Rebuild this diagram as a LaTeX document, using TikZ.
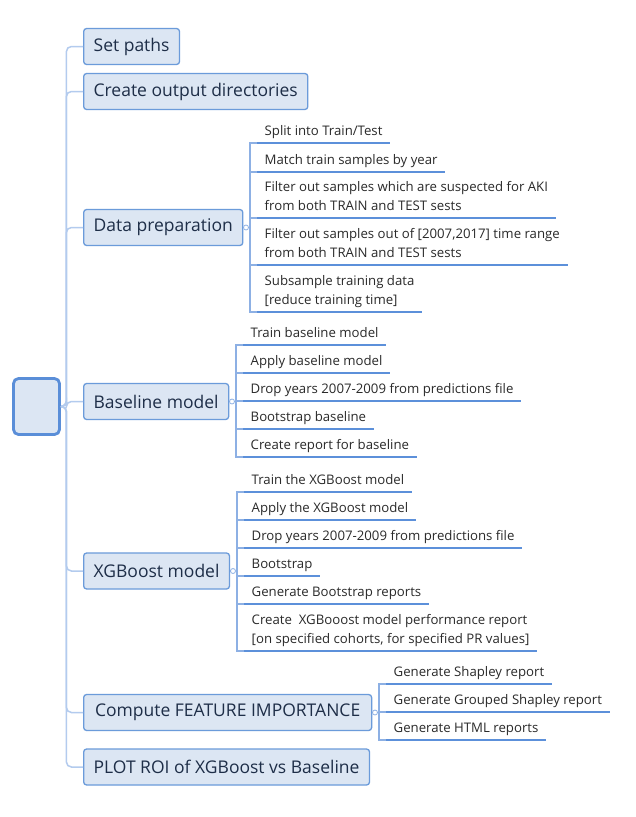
\documentclass[tikz,border=0pt]{standalone}
\usepackage{fontspec}
\setmainfont{Open Sans}
\definecolor{topicfill}{HTML}{DCE6F3}
\definecolor{topicline}{HTML}{6B9BDA}
\definecolor{rootline}{HTML}{5A8ED8}
\definecolor{topictext}{HTML}{1E2E48}
\definecolor{trunkline}{HTML}{B3CBEE}
\definecolor{ulinecol}{HTML}{5C90DA}
\definecolor{bracketcol}{HTML}{8DB0E4}
\definecolor{leaftext}{HTML}{2A2A2A}
\begin{document}
\begin{tikzpicture}[x=1pt,y=-1pt,
  topic/.style={draw=topicline, fill=topicfill, line width=1.3pt, rounded corners=3pt,
    minimum height=36pt, inner xsep=10pt, inner ysep=0pt, anchor=west,
    font=\fontsize{17.5}{20}\selectfont, text=topictext},
  rootbox/.style={draw=rootline, fill=topicfill, line width=2.8pt, rounded corners=5pt,
    minimum width=46pt, minimum height=56pt},
  trunk/.style={draw=trunkline, line width=1.5pt, rounded corners=5pt},
  uline/.style={draw=ulinecol, line width=2pt},
  branch/.style={draw=bracketcol, line width=1.1pt},
  knob/.style={circle, draw=bracketcol, fill=white, line width=0.8pt, minimum size=5pt, inner sep=0pt},
  leaf/.style={anchor=south west, align=left, inner xsep=7.5pt, inner ysep=4pt,
    text depth=3.5pt, font=\fontsize{13.2}{19}\selectfont, text=leaftext,
    append after command={(\tikzlastnode.south west) edge[uline] (\tikzlastnode.south east)}}
]
\fill[white] (0,0) rectangle (636,817);
\useasboundingbox (0,0) rectangle (636,817);

% central topic
\node[rootbox] (root) at (36.5,406.5) {};

% main topics
\node[topic, minimum width=95pt]  (sp)  at (83,46.5)  {Set paths};
\node[topic, minimum width=224pt] (cod) at (83,91.5)  {Create output directories};
\node[topic, minimum width=158pt] (dp)  at (83,227.5) {Data preparation};
\node[topic, minimum width=144pt] (bm)  at (83,401.5) {Baseline model};
\node[topic, minimum width=145pt] (xg)  at (83,571)   {XGBoost model};
\node[topic, minimum width=288pt] (fi)  at (83,712.5) {Compute FEATURE IMPORTANCE};
\node[topic, minimum width=284pt] (pr)  at (83,767)   {PLOT ROI of XGBoost vs Baseline};

% connectors from the central topic
\foreach \t in {sp,cod,dp,bm,xg,fi,pr}
  \draw[trunk] (root.east) -- ++(5.5,0) |- (\t.west);

% Data preparation
\node[leaf] (d1) at (257,143) {Split into Train/Test};
\node[leaf] (d2) at (257,172) {Match train samples by year};
\node[leaf] (d3) at (257,218) {Filter out samples which are suspected for AKI\\from both TRAIN and TEST sests};
\node[leaf] (d4) at (257,265) {Filter out samples out of [2007,2017] time range\\from both TRAIN and TEST sests};
\node[leaf] (d5) at (257,312) {Subsample training data\\{[reduce training time]}};
\node[knob] (dpk) at (246,227.5) {};
\coordinate (dpb) at (250,227.5);
\draw[branch] (dp.east) -- (dpk.west);
\draw[branch] (dpk.east) -- (dpb);
\draw[branch] (d1.south west) -- ++(-7,0) |- (d5.south west);
\foreach \n in {d2,d3,d4} \draw[branch] (\n.south west) -- ++(-7,0);

% Baseline model
\node[leaf] (b1) at (243,345) {Train baseline model};
\node[leaf] (b2) at (243,373) {Apply baseline model};
\node[leaf] (b3) at (243,401) {Drop years 2007-2009 from predictions file};
\node[leaf] (b4) at (243,429) {Bootstrap baseline};
\node[leaf] (b5) at (243,457) {Create report for baseline};
\node[knob] (bmk) at (232,401.5) {};
\coordinate (bmb) at (236,401.5);
\draw[branch] (bm.east) -- (bmk.west);
\draw[branch] (bmk.east) -- (bmb);
\draw[branch] (b1.south west) -- ++(-7,0) |- (b5.south west);
\foreach \n in {b2,b3,b4} \draw[branch] (\n.south west) -- ++(-7,0);

% XGBoost model
\node[leaf] (x1) at (244,492) {Train the XGBoost model};
\node[leaf] (x2) at (244,520) {Apply the XGBoost model};
\node[leaf] (x3) at (244,548) {Drop years 2007-2009 from predictions file};
\node[leaf] (x4) at (244,576) {Bootstrap};
\node[leaf] (x5) at (244,604) {Generate Bootstrap reports};
\node[leaf] (x6) at (244,651) {Create~ XGBooost model performance report\\{[on specified cohorts, for specified PR values]}};
\node[knob] (xgk) at (233,571) {};
\coordinate (xgb) at (237,571);
\draw[branch] (xg.east) -- (xgk.west);
\draw[branch] (xgk.east) -- (xgb);
\draw[branch] (x1.south west) -- ++(-7,0) |- (x6.south west);
\foreach \n in {x2,x3,x4,x5} \draw[branch] (\n.south west) -- ++(-7,0);

% Compute FEATURE IMPORTANCE
\node[leaf] (f1) at (386,684) {Generate Shapley report};
\node[leaf] (f2) at (386,712) {Generate Grouped Shapley report};
\node[leaf] (f3) at (386,740) {Generate HTML reports};
\node[knob] (fik) at (375,712.5) {};
\coordinate (fib) at (379,712.5);
\draw[branch] (fi.east) -- (fik.west);
\draw[branch] (fik.east) -- (fib);
\draw[branch] (f1.south west) -- ++(-7,0) |- (f3.south west);
\draw[branch] (f2.south west) -- ++(-7,0);
\end{tikzpicture}
\end{document}
